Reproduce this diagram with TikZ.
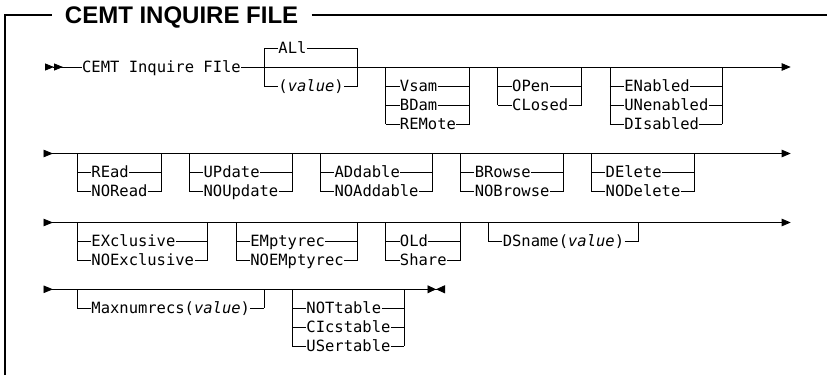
\documentclass[tikz,border=0pt]{standalone}
\usepackage{fontspec}
\setmainfont{Liberation Sans}
\setmonofont{DejaVu Sans Mono}
\usetikzlibrary{arrows.meta}

\begin{document}
\begin{tikzpicture}[x=1pt, y=-1pt, line width=0.85pt,
    font=\ttfamily\fontsize{15.5}{18}\selectfont]
  \tikzset{opt/.style={anchor=west, inner sep=0pt, text height=10pt, text depth=0pt}}
  \tikzset{frame/.style={line width=1.3pt}}
  \tikzset{rowline/.style={{Triangle[reversed,length=9.5pt,width=7.5pt]}-{Triangle[length=9pt,width=7.5pt]}}}

  \useasboundingbox (0,0) rectangle (827,375);

  % Frame with title
  \coordinate (tl) at (5,15);
  \coordinate (tr) at (827,15);
  \coordinate (bl) at (5,375);
  \node[anchor=base west, inner xsep=13pt, inner ysep=0pt,
        font=\rmfamily\bfseries\fontsize{24}{28}\selectfont] (title) at (51.5,23.8) {CEMT INQUIRE FILE};
  \draw[frame] (bl) -- (tl) -- (tl -| title.west);
  \draw[frame] (title.east |- tl) -- (tr);

  % Row 1: command
  \coordinate (r1s) at (45,67);
  \coordinate (r1e) at (790.7,67);
  \node[opt] (cmd) at (81.7,67) {CEMT Inquire FIle};
  \draw[{Triangle[reversed,length=9pt,width=7pt]Triangle[reversed,length=9pt,width=7pt]}-] (r1s) -- (cmd);
  \draw[-{Triangle[length=9pt,width=7.5pt]}] (cmd) -- (r1e);

  % ALl default above the line, (value) below
  \coordinate (allL) at (264,67);
  \coordinate (allR) at (357.5,67);
  \node[opt] (all1) at (278,48) {ALl};
  \node[opt] (all2) at (278,86) {(\textit{value})};
  \draw (all1) -- (allL |- all1) -- (allL |- all2) -- (all2);
  \draw (all1) -- (allR |- all1) -- (allR |- all2) -- (all2);

  % Rows 2 to 4: main lines
  \coordinate (r2s) at (43.5,153.5);
  \coordinate (r2e) at (790.7,153.5);
  \coordinate (r3s) at (43.5,222.5);
  \coordinate (r3e) at (790.7,222.5);
  \coordinate (r4s) at (43.5,289.3);
  \coordinate (r4e) at (445,289.3);
  \draw[rowline] (r2s) -- (r2e);
  \draw[rowline] (r3s) -- (r3e);
  \draw[{Triangle[reversed,length=9.5pt,width=7.5pt]}-{Triangle[length=8.5pt,width=8pt]Triangle[reversed,length=9pt,width=8pt]}] (r4s) -- (r4e);

  % Optional groups below the main lines
  \foreach \g/\cl/\cr/\my/\opts in {
      vsam/385.55/469.7/67/{Vsam,BDam,REMote},
      open/497.75/581.9/67/{OPen,CLosed},
      enab/609.95/722.15/67/{ENabled,UNenabled,DIsabled},
      read/77/161.15/153.5/{REad,NORead},
      upd/189.2/292.05/153.5/{UPdate,NOUpdate},
      add/320.1/432.3/153.5/{ADdable,NOAddable},
      brow/460.35/563.2/153.5/{BRowse,NOBrowse},
      del/591.25/694.1/153.5/{DElete,NODelete},
      excl/77/207.9/222.5/{EXclusive,NOExclusive},
      empt/235.95/357.5/222.5/{EMptyrec,NOEMptyrec},
      old/385.55/460.35/222.5/{OLd,Share},
      dsn/488.4/638/222.5/{DSname(\textit{value})},
      maxn/77/264/289.3/{Maxnumrecs(\textit{value})},
      tabl/292.05/404.25/289.3/{NOTtable,CIcstable,USertable}}{
    \coordinate (\g L) at (\cl,\my);
    \coordinate (\g R) at (\cr,\my);
    \foreach \o [count=\k] in \opts {
      \node[opt] (\g\k) at (\cl+14,\my+19*\k) {\o};
      \draw (\g L |- \g\k) -- (\g\k) -- (\g R |- \g\k);
      \xdef\lastopt{\k}
    }
    \draw (\g L) -- (\g L |- \g\lastopt);
    \draw (\g R) -- (\g R |- \g\lastopt);
  }
\end{tikzpicture}
\end{document}
